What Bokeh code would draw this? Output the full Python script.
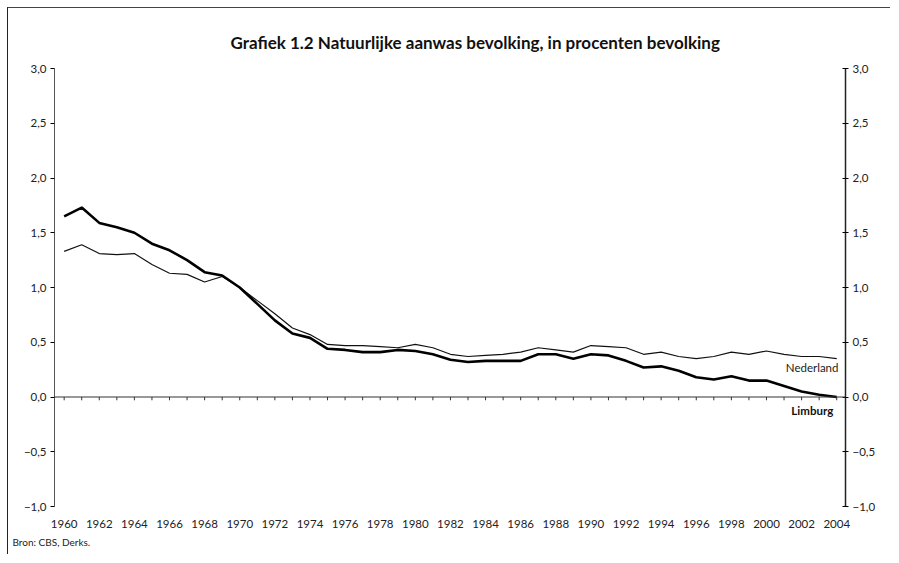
from bokeh.plotting import figure
from bokeh.models import Range1d, LinearAxis, FixedTicker, Label, Title, Span
from bokeh.embed import file_html
from bokeh.resources import INLINE

years = list(range(1960, 2005))
limburg = [1.65, 1.73, 1.59, 1.55, 1.50, 1.40, 1.34, 1.25, 1.14, 1.11,
           1.00, 0.85, 0.70, 0.58, 0.54, 0.44, 0.43, 0.41, 0.41, 0.43,
           0.42, 0.39, 0.34, 0.32, 0.33, 0.33, 0.33, 0.39, 0.39, 0.35,
           0.39, 0.38, 0.33, 0.27, 0.28, 0.24, 0.18, 0.16, 0.19, 0.15,
           0.15, 0.10, 0.05, 0.02, 0.00]
nederland = [1.33, 1.39, 1.31, 1.30, 1.31, 1.21, 1.13, 1.12, 1.05, 1.10,
             1.00, 0.88, 0.76, 0.63, 0.57, 0.48, 0.47, 0.47, 0.46, 0.45,
             0.48, 0.45, 0.39, 0.37, 0.38, 0.39, 0.41, 0.45, 0.43, 0.41,
             0.47, 0.46, 0.45, 0.39, 0.41, 0.37, 0.35, 0.37, 0.41, 0.39,
             0.42, 0.39, 0.37, 0.37, 0.35]
x_ticks = list(range(1960, 2005, 2))
y_ticks = [-1.0, -0.5, 0.0, 0.5, 1.0, 1.5, 2.0, 2.5, 3.0]
y_tick_labels = ["\u22121,0", "\u22120,5", "0,0", "0,5", "1,0", "1,5", "2,0", "2,5", "3,0"]

FONT = "Lato"
TXT = "#222222"

p = figure(width=883, height=547, output_backend="svg", toolbar_location=None,
           x_range=Range1d(1959.45, 2004.5), y_range=Range1d(-1.0, 3.0),
           min_border_left=46, min_border_right=46, min_border_top=60, min_border_bottom=49,
           background_fill_color="white", border_fill_color="white")
p.outline_line_color = None
p.grid.visible = False
p.styles = {"margin-left": "7px", "margin-top": "7px",
            "border-top": "1px solid #444444", "border-left": "1px solid #222222"}

# title
t = Title(text="Grafiek 1.2 Natuurlijke aanwas bevolking, in procenten bevolking",
          align="left", offset=176, text_font=FONT, text_font_size="17px",
          text_font_style="bold", text_color="#111111", standoff=31)
p.add_layout(t, "above")

overrides = {v: s for v, s in zip(y_ticks, y_tick_labels)}

# left axis
ya = p.yaxis[0]
ya.ticker = FixedTicker(ticks=y_ticks)
ya.major_label_overrides = overrides
ya.axis_line_color = "#555555"
ya.axis_line_width = 1
ya.major_tick_in = 0
ya.major_tick_out = 4
ya.minor_tick_line_color = None
ya.major_label_text_font = FONT
ya.major_label_text_font_size = "11.5px"
ya.major_label_text_color = TXT
ya.major_label_standoff = 4

# right axis
ra = LinearAxis(ticker=FixedTicker(ticks=y_ticks), major_label_overrides=overrides,
                axis_line_color="#222222", axis_line_width=1.5,
                major_tick_in=3, major_tick_out=3, minor_tick_line_color=None,
                major_label_text_font=FONT, major_label_text_font_size="11.5px",
                major_label_text_color=TXT, major_label_standoff=4)
p.add_layout(ra, "right")

# bottom axis: labels only
xa = p.xaxis[0]
xa.ticker = FixedTicker(ticks=x_ticks)
xa.axis_line_color = None
xa.major_tick_line_color = None
xa.minor_tick_line_color = None
xa.major_tick_out = 6
xa.major_label_standoff = 7
xa.major_label_text_font = FONT
xa.major_label_text_font_size = "11.5px"
xa.major_label_text_color = TXT

src = Title(text="Bron: CBS, Derks.", align="left", offset=-42, text_font=FONT,
            text_font_size="10px", text_font_style="normal", text_color=TXT, standoff=6)
p.add_layout(src, "below")

# zero line with yearly tick marks
p.add_layout(Span(location=0, dimension="width", line_color="#333333", line_width=1))
p.segment(x0=years, y0=[0] * len(years), x1=years, y1=[-0.03] * len(years),
          line_color="#333333", line_width=1)

p.line(years, nederland, line_color="#111111", line_width=1.2)
p.line(years, limburg, line_color="#000000", line_width=2.6)

p.add_layout(Label(x=2004.1, y=0.27, text="Nederland", text_align="right",
                   text_baseline="middle", text_font=FONT, text_font_size="11.5px",
                   text_color=TXT))
p.add_layout(Label(x=2003.8, y=-0.12, text="Limburg", text_align="right",
                   text_baseline="middle", text_font=FONT, text_font_size="11.5px",
                   text_font_style="bold", text_color="#111111"))

open("out.html", "w").write(file_html(p, INLINE))
